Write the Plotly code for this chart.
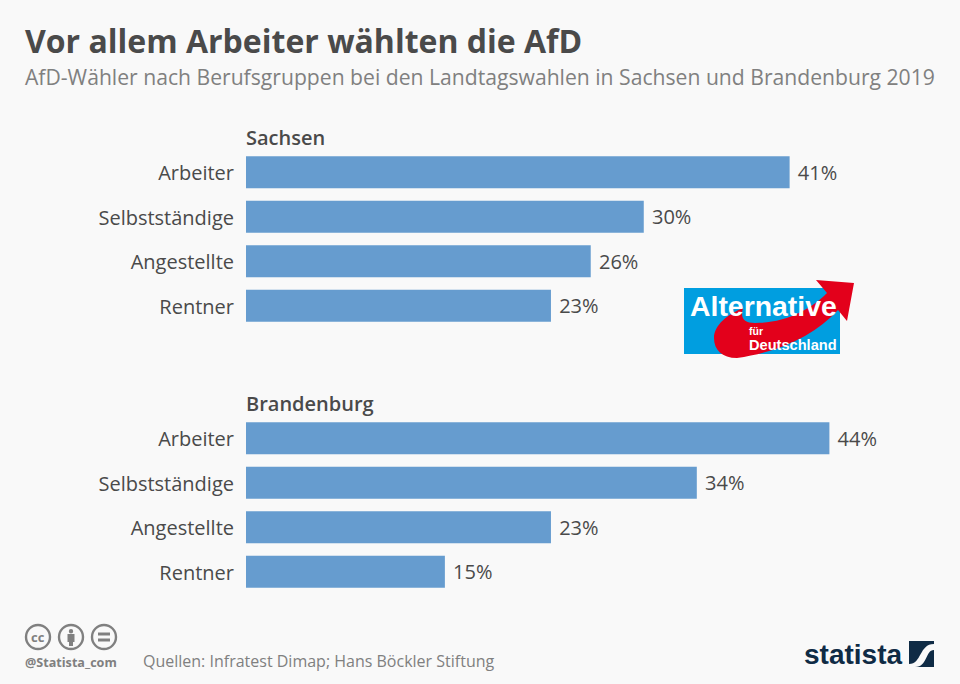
import plotly.graph_objects as go
from plotly.subplots import make_subplots

W = 960
H = 684

berufe = ["Arbeiter", "Selbstständige", "Angestellte", "Rentner"]
sachsen = [41, 30, 26, 23]
brandenburg = [44, 34, 23, 15]

BG = "#f9f9f9"
BAR = "#669ccf"
TXT = "#4a4a4a"
GREY = "#808080"
NAVY = "#0f2b45"
FONT = "Open Sans"
LOGO_FONT = "Liberation Sans"


def px(x):
    return x / W


def py(y):
    return 1 - y / H


def path(s):
    # px coordinates -> paper coordinates, "x,y" pairs in an svg-like string
    out = []
    for tok in s.split():
        if "," in tok:
            a, b = tok.split(",")
            out.append(f"{px(float(a)):.5f},{py(float(b)):.5f}")
        else:
            out.append(tok)
    return " ".join(out)


def label(x, y, text, size, color=TXT, weight=400, anchor="left", font=FONT):
    # annotations sit about 2px inside their box
    if anchor == "left":
        x -= 2
    return dict(x=px(x), y=py(y), xref="paper", yref="paper", text=text, showarrow=False,
                xanchor=anchor, yanchor="middle", align=anchor,
                font=dict(family=font, size=size, color=color, weight=weight))


def shape_path(s, fill):
    return dict(type="path", xref="paper", yref="paper", path=path(s), fillcolor=fill,
                line=dict(width=0), layer="above")


def rect(x0, y0, x1, y1, fill):
    return dict(type="rect", xref="paper", yref="paper", x0=px(x0), x1=px(x1), y0=py(y0), y1=py(y1),
                fillcolor=fill, line=dict(width=0), layer="above")


def circle(cx, cy, r, line=GREY):
    return dict(type="circle", xref="paper", yref="paper", x0=px(cx - r), x1=px(cx + r),
                y0=py(cy + r), y1=py(cy - r), fillcolor="rgba(0,0,0,0)",
                line=dict(width=2.4, color=line), layer="above")


fig = make_subplots(rows=2, cols=1)

for row, values in enumerate([sachsen, brandenburg], start=1):
    fig.add_trace(go.Bar(x=values, y=berufe, orientation="h", marker=dict(color=BAR, line=dict(width=0)),
                         text=[f" {v}%" for v in values], textposition="outside", cliponaxis=False,
                         textfont=dict(family=FONT, size=20, color=TXT), hoverinfo="skip"),
                  row=row, col=1)

fig.update_xaxes(range=[0, 53.85], domain=[px(246), 1], visible=False, showgrid=False)
fig.update_yaxes(autorange="reversed", showgrid=False, showline=False, ticks="", ticklabelstandoff=11,
                 ticklabelshift=-1, tickfont=dict(family=FONT, size=20, color=TXT))
fig.update_layout(yaxis=dict(domain=[py(328), py(150)]), yaxis2=dict(domain=[py(594), py(416)]))

shapes = [
    # AfD logo
    rect(684, 288, 840, 354, "#009ee0"),
    shape_path("M 816,280 L 854,283 L 847,321 L 838,310 C 815,335 780,352 737,358 "
               "C 722,358 714,350 714,338 C 714,325 728,314 743,308 "
               "C 740,318 744,323 755,323 C 785,323 810,310 827,293 Z", "#e3001b"),
    # cc icons
    circle(38, 637, 12), circle(71, 637, 12), circle(104, 637, 12),
    dict(type="circle", xref="paper", yref="paper", x0=px(68.8), x1=px(73.2), y0=py(633.5), y1=py(629),
         fillcolor=GREY, line=dict(width=0), layer="above"),
    rect(67.5, 634, 74.5, 642, GREY),
    rect(69, 642, 73, 646, GREY),
    rect(98, 632.5, 110, 635.5, GREY),
    rect(98, 638.5, 110, 641.5, GREY),
    # statista square
    rect(909, 641, 934, 667, NAVY),
    shape_path("M 909,664 C 922,664 919,644 934,644 L 934,650 C 925,650 928,667 915,667 L 909,667 Z", BG),
]

annotations = [
    label(25, 40, "Vor allem Arbeiter wählten die AfD", 32, TXT, 700),
    label(25, 77, "AfD-Wähler nach Berufsgruppen bei den Landtagswahlen in Sachsen und Brandenburg 2019", 21.15, GREY),
    label(245.5, 137, "Sachsen", 20, TXT, 600),
    label(245.5, 403, "Brandenburg", 20, TXT, 600),
    label(763, 306, "Alternative", 28.4, "white", 700, "center", LOGO_FONT),
    label(756, 331, "für", 10.5, "white", 700, "center", LOGO_FONT),
    label(792.5, 344.5, "Deutschland", 14.6, "white", 700, "center", LOGO_FONT),
    label(38, 637, "cc", 13, GREY, 700, "center"),
    label(25, 662, "@Statista_com", 12.6, GREY, 700),
    label(143, 661, "Quellen: Infratest Dimap; Hans Böckler Stiftung", 16, GREY),
    label(804, 654, "statista", 28, NAVY, 700, "left", LOGO_FONT),
]

fig.update_layout(width=W, height=H, margin=dict(l=0, r=0, t=0, b=0), showlegend=False, bargap=0.28,
                  paper_bgcolor=BG, plot_bgcolor=BG, shapes=shapes, annotations=annotations)

fig.write_html("out.html", config={"displayModeBar": False},
               post_script="document.body.style.margin='0';document.body.style.background='" + BG + "';")
